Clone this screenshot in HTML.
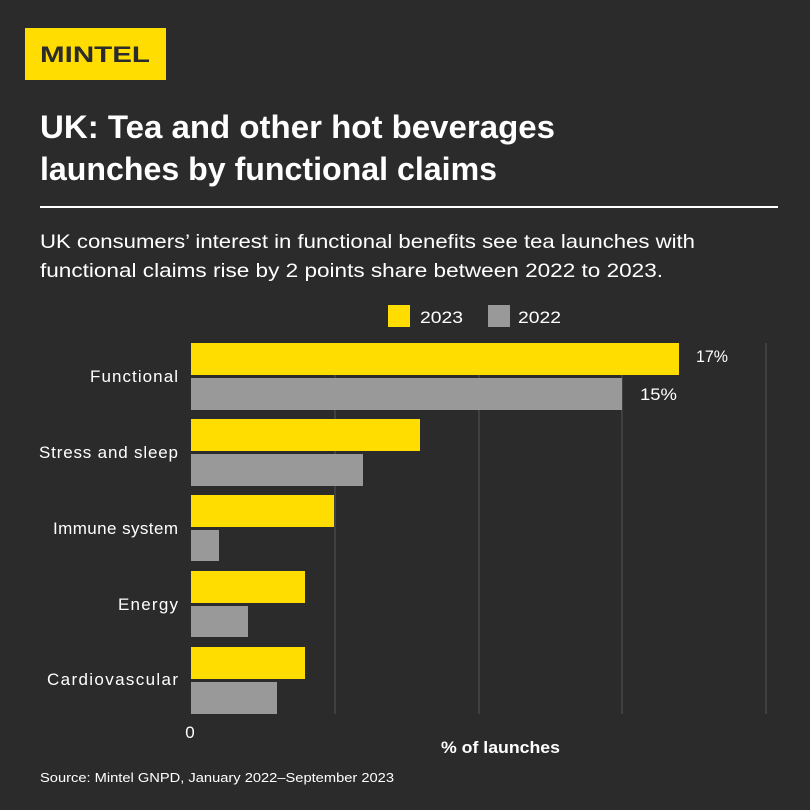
<!DOCTYPE html>
<html><head><meta charset="utf-8"><style>
body{margin:0;background:#2b2b2b;}
svg{display:block;font-family:"Liberation Sans",sans-serif;}
</style></head><body>
<svg width="810" height="810" viewBox="0 0 810 810">
<rect width="810" height="810" fill="#2b2b2b"/>
<rect x="25" y="28" width="141" height="52" fill="#ffdd00"/>
<text x="40" y="62" font-size="22" font-weight="bold" fill="#2b2b2b" textLength="110" lengthAdjust="spacingAndGlyphs">MINTEL</text>
<text x="40" y="138" font-size="32" font-weight="bold" fill="#fff" textLength="515" lengthAdjust="spacingAndGlyphs">UK: Tea and other hot beverages</text>
<text x="40" y="180" font-size="32" font-weight="bold" fill="#fff" textLength="457" lengthAdjust="spacingAndGlyphs">launches by functional claims</text>
<rect x="40" y="206" width="738" height="2" fill="#fff"/>
<text x="40" y="248" font-size="19.5" fill="#fff" textLength="655" lengthAdjust="spacingAndGlyphs">UK consumers’ interest in functional benefits see tea launches with</text>
<text x="40" y="277" font-size="19.5" fill="#fff" textLength="623" lengthAdjust="spacingAndGlyphs">functional claims rise by 2 points share between 2022 to 2023.</text>
<rect x="388" y="305" width="22" height="22" fill="#ffdd00"/>
<text x="420" y="323" font-size="17" fill="#fff" textLength="43" lengthAdjust="spacingAndGlyphs">2023</text>
<rect x="488" y="305" width="22" height="22" fill="#999"/>
<text x="518" y="323" font-size="17" fill="#fff" textLength="43" lengthAdjust="spacingAndGlyphs">2022</text>
<g stroke="#555" stroke-width="1">
<line x1="335" y1="343" x2="335" y2="714"/><line x1="479" y1="343" x2="479" y2="714"/>
<line x1="622" y1="343" x2="622" y2="714"/><line x1="766" y1="343" x2="766" y2="714"/>
</g>
<g fill="#ffdd00">
<rect x="191" y="343" width="488" height="32"/>
<rect x="191" y="419" width="229" height="32"/>
<rect x="191" y="495" width="143" height="32"/>
<rect x="191" y="571" width="114" height="32"/>
<rect x="191" y="647" width="114" height="32"/>
</g>
<g fill="#999">
<rect x="191" y="378" width="431" height="32"/>
<rect x="191" y="454" width="172" height="32"/>
<rect x="191" y="530" width="28" height="31"/>
<rect x="191" y="606" width="57" height="31"/>
<rect x="191" y="682" width="86" height="32"/>
</g>
<g font-size="17" fill="#fff">
<text x="696" y="362" textLength="32" lengthAdjust="spacingAndGlyphs">17%</text>
<text x="640" y="400" textLength="37" lengthAdjust="spacingAndGlyphs">15%</text>
</g>
<g font-size="17" fill="#fff" lengthAdjust="spacingAndGlyphs">
<text x="90" y="382" textLength="88">Functional</text>
<text x="39" y="458" textLength="139">Stress and sleep</text>
<text x="53" y="534" textLength="125">Immune system</text>
<text x="118" y="610" textLength="60">Energy</text>
<text x="47" y="685" textLength="131">Cardiovascular</text>
</g>
<text x="190" y="738" font-size="17" fill="#fff" text-anchor="middle">0</text>
<text x="441" y="753" font-size="16.5" font-weight="bold" fill="#fff" textLength="119" lengthAdjust="spacingAndGlyphs">% of launches</text>
<text x="40" y="782" font-size="13" fill="#fff" textLength="354" lengthAdjust="spacingAndGlyphs">Source: Mintel GNPD, January 2022–September 2023</text>
</svg>
</body></html>
